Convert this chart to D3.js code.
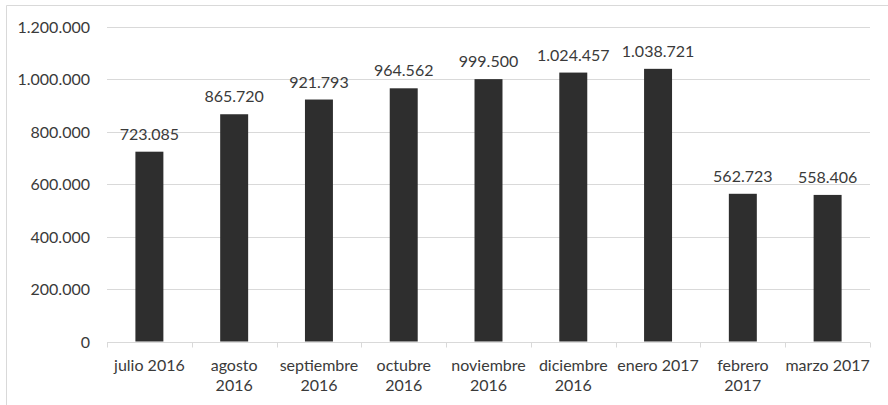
<!DOCTYPE html>
<html>
<head>
<meta charset="utf-8">
<script src="https://cdn.jsdelivr.net/npm/d3@7"></script>
<style>
  html, body { margin: 0; padding: 0; background: #fff; }
  svg { display: block; }
  text { font-family: Lato, "Open Sans", sans-serif; fill: #3a3a3a; }
</style>
</head>
<body>
<svg id="chart" width="888" height="405"></svg>
<script>
// Monthly totals, July 2016 – March 2017
const categories = ["julio 2016", "agosto 2016", "septiembre 2016", "octubre 2016",
  "noviembre 2016", "diciembre 2016", "enero 2017", "febrero 2017", "marzo 2017"];
const categoryLines = [["julio 2016"], ["agosto", "2016"], ["septiembre", "2016"],
  ["octubre", "2016"], ["noviembre", "2016"], ["diciembre", "2016"], ["enero 2017"],
  ["febrero", "2017"], ["marzo 2017"]];
const values = [723085, 865720, 921793, 964562, 999500, 1024457, 1038721, 562723, 558406];
const yTicks = [0, 200000, 400000, 600000, 800000, 1000000, 1200000];

const fmt = d3.formatLocale({ decimal: ",", thousands: ".", grouping: [3], currency: ["", "€"] }).format(",d");
const fontSize = "16px";

const svg = d3.select("#chart");
const plot = { left: 107, right: 870, top: 26.5, bottom: 341.5 };

// chart frame (left and top edges)
svg.append("path")
  .attr("d", "M6.5,405 V5.5 H888")
  .attr("fill", "none")
  .attr("stroke", "#d9d9d9")
  .attr("stroke-width", 1);

const x = d3.scaleBand()
  .domain(categories)
  .range([plot.left, plot.right])
  .paddingInner(0.67)
  .paddingOuter(0.335);

const y = d3.scaleLinear()
  .domain([0, 1200000])
  .range([plot.bottom, plot.top]);

// horizontal gridlines
svg.append("g")
  .selectAll("line")
  .data(yTicks.filter(d => d > 0))
  .join("line")
  .attr("x1", plot.left).attr("x2", plot.right)
  .attr("y1", d => Math.round(y(d)) + 0.5).attr("y2", d => Math.round(y(d)) + 0.5)
  .attr("stroke", "#d9d9d9")
  .attr("stroke-width", 1);

// y axis labels
const yAxis = d3.axisLeft(y).tickValues(yTicks).tickFormat(fmt).tickSize(0).tickPadding(17);
const gy = svg.append("g").attr("transform", `translate(${plot.left},0)`).call(yAxis);
gy.select(".domain").remove();
gy.selectAll("text").style("font-size", fontSize).attr("fill", "#3a3a3a").attr("dy", "0.35em");

// bars
svg.append("g")
  .selectAll("rect")
  .data(values)
  .join("rect")
  .attr("x", (d, i) => x(categories[i]))
  .attr("width", x.bandwidth())
  .attr("y", d => y(d))
  .attr("height", d => y(0) - y(d))
  .attr("fill", "#2e2e2e");

// value labels above bars
svg.append("g")
  .selectAll("text")
  .data(values)
  .join("text")
  .attr("x", (d, i) => x(categories[i]) + x.bandwidth() / 2)
  .attr("y", d => y(d) - 12)
  .attr("text-anchor", "middle")
  .style("font-size", fontSize)
  .text(d => fmt(d));

// category axis with tick marks at band boundaries
const axisY = Math.round(y(0)) + 0.5;
const gx = svg.append("g");
gx.append("line")
  .attr("x1", plot.left).attr("x2", plot.right)
  .attr("y1", axisY).attr("y2", axisY)
  .attr("stroke", "#d9d9d9");
const step = x.step();
gx.selectAll("line.tick")
  .data(d3.range(categories.length + 1))
  .join("line")
  .attr("class", "tick")
  .attr("x1", i => Math.round(plot.left + i * step) + 0.5)
  .attr("x2", i => Math.round(plot.left + i * step) + 0.5)
  .attr("y1", axisY).attr("y2", axisY + 5)
  .attr("stroke", "#d9d9d9");

gx.selectAll("text.cat")
  .data(categories)
  .join("text")
  .attr("class", "cat")
  .attr("text-anchor", "middle")
  .style("font-size", fontSize)
  .attr("transform", d => `translate(${x(d) + x.bandwidth() / 2},370.5)`)
  .each(function (d, i) {
    d3.select(this).selectAll("tspan")
      .data(categoryLines[i])
      .join("tspan")
      .attr("x", 0)
      .attr("y", (l, j) => j * 20)
      .text(l => l);
  });
</script>
</body>
</html>
